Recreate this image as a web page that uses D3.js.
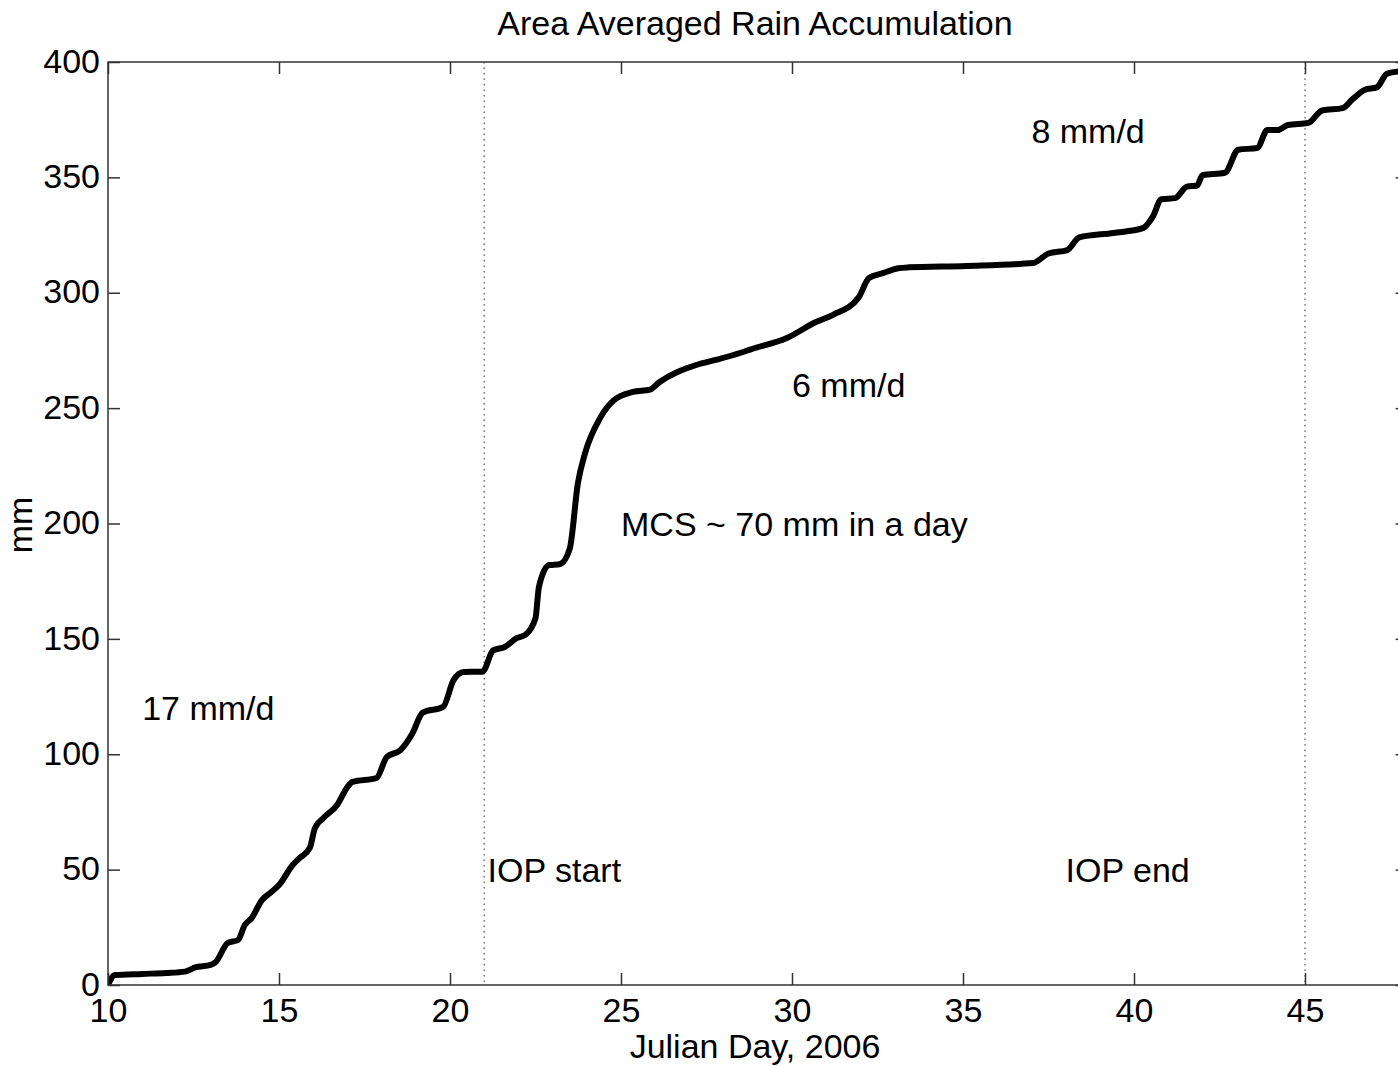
<!DOCTYPE html>
<html>
<head>
<meta charset="utf-8">
<script src="https://cdn.jsdelivr.net/npm/d3@7.9.0/dist/d3.min.js"></script>
<style>
    body { margin: 0; background: #fff; overflow: hidden; }
    svg { display: block; font-family: "Liberation Sans", Arial, Helvetica, sans-serif; }
</style>
</head>
<body>
<svg id="chart" width="1398" height="1066"></svg>
<script>
// cumulative area averaged rain (mm) vs julian day
const days = [10.0, 10.2, 11.0, 11.7, 12.25, 12.55, 13.0, 13.15, 13.5, 13.8, 14.0, 14.2, 14.5, 14.75,
    15.0, 15.4, 15.6, 15.9, 16.05, 16.3, 16.7, 17.0, 17.15, 17.85, 18.15, 18.55, 18.9, 19.2, 19.8,
    20.1, 20.4, 20.95, 21.26, 21.6, 21.96, 22.2, 22.5, 22.6, 22.9, 23.2, 23.5, 23.74, 23.95, 24.4,
    24.8, 25.35, 25.85, 26.1, 27.2, 27.8, 28.5, 28.8, 29.85, 30.7, 31.2, 31.95, 32.25, 32.66, 33.1,
    33.4, 35.1, 37.05, 37.5, 38.05, 38.4, 39.4, 40.26, 40.55, 40.8, 41.2, 41.55, 41.85, 42.0, 42.66,
    43.05, 43.6, 43.9, 44.2, 44.5, 45.1, 45.5, 46.1, 46.4, 46.75, 47.1, 47.4, 47.8];
const rain = [0, 4.3, 4.8, 5.2, 5.8, 7.6, 8.7, 10, 18.2, 19.5, 26, 29, 36.8, 40,
    43.3, 52, 55, 59.4, 68, 72.4, 78, 85.8, 88, 89.7, 98.8, 101.8, 109, 118, 120.5,
    132, 135.6, 135.8, 145, 146.5, 150.4, 151.7, 159, 172.5, 182, 182.3, 189, 217.5, 230.5, 246,
    253.5, 257, 258, 261, 268.7, 271, 274, 275.5, 280.4, 287.3, 290.4, 298, 306.4, 308.5, 310.6,
    311, 311.6, 312.9, 317, 318.5, 324, 325.9, 328, 333, 340.5, 341, 346, 346.5, 351, 352,
    362, 362.7, 370.5, 370.5, 372.7, 373.6, 379, 380, 384, 388, 389, 395, 396];

const xTicks = [10, 15, 20, 25, 30, 35, 40, 45];
const yTicks = [0, 50, 100, 150, 200, 250, 300, 350, 400];
const iopDays = [21, 45];

const noteText = ['17 mm/d', 'IOP start', 'MCS ~ 70 mm in a day', '6 mm/d', '8 mm/d', 'IOP end'];
const noteDay = [11, 21.1, 25, 30, 37, 38];
const noteMm = [120, 50, 200, 260, 370, 50];

const margin = { left: 108, top: 62 };
const width = 1299.6, height = 923;
const fontSize = 34;

const svg = d3.select('#chart');
const g = svg.append('g').attr('transform', `translate(${margin.left},${margin.top})`);

const x = d3.scaleLinear().domain([10, 48]).range([0, width]);
const y = d3.scaleLinear().domain([0, 400]).range([height, 0]);

svg.append('defs').append('clipPath').attr('id', 'plotclip')
    .append('rect').attr('width', width).attr('height', height);

// dotted IOP markers
g.selectAll('.iop').data(iopDays).join('line')
    .attr('x1', d => x(d)).attr('x2', d => x(d))
    .attr('y1', 0).attr('y2', height)
    .attr('stroke', '#777').attr('stroke-width', 1.5)
    .attr('stroke-dasharray', '1.5,4');

// rain accumulation curve
const pts = days.map((d, i) => [d, rain[i]]);
const line = d3.line().x(d => x(d[0])).y(d => y(d[1])).curve(d3.curveMonotoneX);
g.append('path')
    .attr('d', line(pts))
    .attr('clip-path', 'url(#plotclip)')
    .attr('fill', 'none').attr('stroke', '#000')
    .attr('stroke-width', 6).attr('stroke-linejoin', 'round');

// box + inward ticks
const axisCol = '#333';
const tickLen = 12;
g.append('rect').attr('width', width).attr('height', height)
    .attr('fill', 'none').attr('stroke', axisCol).attr('stroke-width', 1.5);

const axBottom = g.append('g').attr('transform', `translate(0,${height})`)
    .call(d3.axisBottom(x).tickValues(xTicks).tickSizeInner(-tickLen).tickSizeOuter(0).tickPadding(13));
const axTop = g.append('g')
    .call(d3.axisTop(x).tickValues(xTicks).tickSizeInner(-tickLen).tickSizeOuter(0).tickFormat(''));
const axLeft = g.append('g')
    .call(d3.axisLeft(y).tickValues(yTicks).tickSizeInner(-tickLen).tickSizeOuter(0).tickPadding(8));
const axRight = g.append('g').attr('transform', `translate(${width},0)`)
    .call(d3.axisRight(y).tickValues(yTicks).tickSizeInner(-tickLen).tickSizeOuter(0).tickFormat(''));

[axBottom, axTop, axLeft, axRight].forEach(a => {
    a.select('.domain').remove();
    a.selectAll('line').attr('stroke', axisCol).attr('stroke-width', 1.5);
    a.selectAll('text').attr('fill', '#000').attr('font-size', fontSize)
        .attr('font-family', '"Liberation Sans", Arial, sans-serif');
});
axBottom.selectAll('text').attr('dy', '0.72em');
axLeft.selectAll('text').attr('dy', '0.3em');

// annotations
noteText.forEach((t, i) => {
    g.append('text')
        .attr('x', x(noteDay[i])).attr('y', y(noteMm[i]))
        .attr('dy', '0.36em')
        .attr('font-size', fontSize)
        .text(t);
});

// title and labels
svg.append('text').attr('x', 755).attr('y', 35)
    .attr('text-anchor', 'middle').attr('font-size', fontSize)
    .text('Area Averaged Rain Accumulation');
svg.append('text').attr('x', 755).attr('y', 1058)
    .attr('text-anchor', 'middle').attr('font-size', fontSize)
    .text('Julian Day, 2006');
svg.append('text')
    .attr('transform', 'translate(32,525) rotate(-90)')
    .attr('text-anchor', 'middle').attr('font-size', fontSize)
    .text('mm');
</script>
</body>
</html>
